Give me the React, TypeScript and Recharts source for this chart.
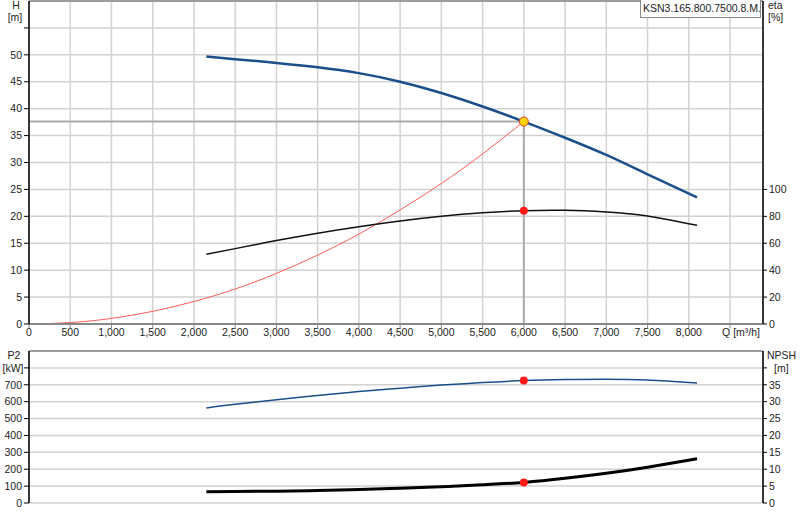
import React from 'react';
import {
  ComposedChart, Line, Scatter, XAxis, YAxis, CartesianGrid, ReferenceLine,
} from 'recharts';

// flow rate Q [m³/h] -> head H [m]
const headQ = [2150, 2500, 3000, 3500, 4000, 4500, 5000, 5500, 6000, 6500, 7000, 7500, 8100];
const headH = [49.7, 49.2, 48.5, 47.7, 46.6, 45.0, 42.9, 40.4, 37.6, 34.6, 31.4, 27.8, 23.5];

// efficiency eta [%]
const etaQ = [2150, 2500, 3000, 3500, 4000, 4500, 5000, 5500, 6000, 6500, 7000, 7500, 8100];
const etaV = [51.9, 56, 62, 67.5, 72.3, 76.5, 80.0, 82.6, 84.2, 84.5, 83.3, 80.3, 73.3];

// system curve (red)
const sysQ = [0, 500, 1000, 1500, 2000, 2500, 3000, 3500, 4000, 4500, 5000, 5500, 6000];
const sysH = [0, 0.26, 1.04, 2.35, 4.18, 6.5, 9.4, 12.8, 16.7, 21.2, 26.1, 31.6, 37.6];

// shaft power P2 [kW]
const p2Q = [2150, 2500, 3000, 3500, 4000, 4500, 5000, 5500, 6000, 6500, 7000, 7500, 8100];
const p2V = [563, 585, 611, 637, 660, 680, 698, 713, 725, 731, 733, 728, 710];

// NPSH [m]
const npshQ = [2150, 2500, 3000, 3500, 4000, 4500, 5000, 5500, 6000, 6500, 7000, 7500, 8100];
const npshV = [3.35, 3.4, 3.5, 3.7, 4.0, 4.35, 4.8, 5.4, 6.1, 7.3, 8.8, 10.6, 13.1];

// duty point
const dutyQ = 6000;
const dutyH = 37.6;
const dutyEta = 84.2;
const dutyP2 = 725;
const dutyNpsh = 6.1;

const qTicks = [0, 500, 1000, 1500, 2000, 2500, 3000, 3500, 4000, 4500, 5000, 5500, 6000, 6500, 7000, 7500, 8000, 8500];
const hTicks = [0, 5, 10, 15, 20, 25, 30, 35, 40, 45, 50, 55];
const etaTicks = [0, 20, 40, 60, 80, 100];
const p2Ticks = [0, 100, 200, 300, 400, 500, 600, 700, 800];
const npshTicks = [0, 5, 10, 15, 20, 25, 30, 35, 40];

const zip = (xs: number[], ys: number[]) => xs.map((q, i) => ({ q, v: ys[i] }));

const FONT = '"Liberation Sans", Arial, sans-serif';
const GRID = '#d2d2d2';
const BLUE = '#1a4f8a';

const XTick = (props: any) => {
  const { x, y, payload } = props;
  const v = payload.value;
  if (v === 8500) {
    return <text x={x + 11} y={y} dy="0.71em" textAnchor="middle" fontSize={10.5} fontFamily={FONT} fill="#222">Q [m³/h]</text>;
  }
  return <text x={x} y={y} dy="0.71em" textAnchor="middle" fontSize={10.5} fontFamily={FONT} fill="#222">{v.toLocaleString('en-US')}</text>;
};

const tickStyle = { fontSize: 10.5, fontFamily: FONT, fill: '#222' };

const label = (text: string, x: number, y: number, anchor: 'middle' | 'start' = 'middle') => (
  <div style={{ position: 'absolute', left: x, top: y, fontSize: 10.5, fontFamily: FONT, color: '#222', transform: anchor === 'middle' ? 'translateX(-50%)' : undefined, whiteSpace: 'nowrap' }}>{text}</div>
);

export default function App() {
  return (
    <div style={{ position: 'absolute', left: 0, top: 0, width: 800, height: 520, background: '#fff' }}>
      {/* upper chart: H, eta */}
      <div style={{ position: 'absolute', left: 0, top: 0 }}>
        <ComposedChart width={800} height={344} margin={{ top: 1, right: 0, bottom: 0, left: 0 }}>
          <CartesianGrid yAxisId="h" stroke={GRID} strokeWidth={1.5} />
          <XAxis dataKey="q" type="number" domain={[0, 8900]} ticks={qTicks} tick={<XTick />}
            height={20} tickSize={4} tickMargin={1} axisLine={{ stroke: '#888', strokeWidth: 2 }} tickLine={{ stroke: '#888' }}
            allowDataOverflow interval={0} />
          <YAxis yAxisId="h" type="number" domain={[0, 60]} ticks={hTicks} width={29}
            tickFormatter={(v: number) => (v === 55 ? '' : String(v))}
            tick={tickStyle} tickSize={5} tickMargin={2}
            axisLine={{ stroke: '#000', strokeWidth: 1.5 }} tickLine={{ stroke: '#000' }} interval={0} />
          <YAxis yAxisId="eta" orientation="right" type="number" domain={[0, 240]} ticks={etaTicks} width={37}
            tick={{ ...tickStyle, textAnchor: 'start' }} tickSize={4} tickMargin={2}
            axisLine={{ stroke: '#000', strokeWidth: 1.5 }} tickLine={{ stroke: '#000' }} interval={0} />
          <ReferenceLine yAxisId="h" y={60} stroke="#888" strokeWidth={1.5} />
          <ReferenceLine yAxisId="h" segment={[{ x: 0, y: dutyH }, { x: dutyQ, y: dutyH }]} stroke="#aaa" strokeWidth={2} />
          <ReferenceLine yAxisId="h" segment={[{ x: dutyQ, y: 0 }, { x: dutyQ, y: dutyH }]} stroke="#aaa" strokeWidth={2} />
          <Line yAxisId="h" data={zip(sysQ, sysH)} dataKey="v" type="natural" stroke="#ff5a5a" strokeWidth={1} dot={false} isAnimationActive={false} />
          <Line yAxisId="eta" data={zip(etaQ, etaV)} dataKey="v" type="natural" stroke="#111" strokeWidth={1.5} dot={false} isAnimationActive={false} />
          <Line yAxisId="h" data={zip(headQ, headH)} dataKey="v" type="natural" stroke={BLUE} strokeWidth={2.5} dot={false} isAnimationActive={false} />
          <Scatter yAxisId="eta" data={[{ q: dutyQ, v: dutyEta }]} dataKey="v" fill="#ff1a1a" isAnimationActive={false}
            shape={(p: any) => <circle cx={p.cx} cy={p.cy} r={4} fill="#ff1a1a" />} />
          <Scatter yAxisId="h" data={[{ q: dutyQ, v: dutyH }]} dataKey="v" fill="#ffd400" isAnimationActive={false}
            shape={(p: any) => <circle cx={p.cx} cy={p.cy} r={4.5} fill="#ffd400" stroke="#e04020" strokeWidth={1} />} />
        </ComposedChart>
      </div>

      {/* lower chart: P2, NPSH */}
      <div style={{ position: 'absolute', left: 0, top: 345 }}>
        <ComposedChart width={800} height={165} margin={{ top: 6, right: 0, bottom: 7, left: 0 }}>
          <CartesianGrid yAxisId="p2" stroke={GRID} strokeWidth={1.5} />
          <XAxis dataKey="q" type="number" domain={[0, 8900]} ticks={qTicks} height={0} tick={false}
            axisLine={{ stroke: '#888', strokeWidth: 2 }} tickLine={false} allowDataOverflow interval={0} />
          <YAxis yAxisId="p2" type="number" domain={[0, 900]} ticks={p2Ticks} width={29}
            tickFormatter={(v: number) => (v === 800 ? '' : String(v))}
            tick={tickStyle} tickSize={5} tickMargin={2}
            axisLine={{ stroke: '#000', strokeWidth: 1.5 }} tickLine={{ stroke: '#000' }} interval={0} />
          <YAxis yAxisId="npsh" orientation="right" type="number" domain={[0, 45]} ticks={npshTicks} width={37}
            tickFormatter={(v: number) => (v === 40 ? '' : String(v))}
            tick={{ ...tickStyle, textAnchor: 'start' }} tickSize={4} tickMargin={2}
            axisLine={{ stroke: '#000', strokeWidth: 1.5 }} tickLine={{ stroke: '#000' }} interval={0} />
          <ReferenceLine yAxisId="p2" y={900} stroke="#888" strokeWidth={1.5} />
          <Line yAxisId="p2" data={zip(p2Q, p2V)} dataKey="v" type="natural" stroke={BLUE} strokeWidth={1.5} dot={false} isAnimationActive={false} />
          <Line yAxisId="npsh" data={zip(npshQ, npshV)} dataKey="v" type="natural" stroke="#000" strokeWidth={3} dot={false} isAnimationActive={false} />
          <Scatter yAxisId="p2" data={[{ q: dutyQ, v: dutyP2 }]} dataKey="v" fill="#ff1a1a" isAnimationActive={false}
            shape={(p: any) => <circle cx={p.cx} cy={p.cy} r={4} fill="#ff1a1a" />} />
          <Scatter yAxisId="npsh" data={[{ q: dutyQ, v: dutyNpsh }]} dataKey="v" fill="#ff1a1a" isAnimationActive={false}
            shape={(p: any) => <circle cx={p.cx} cy={p.cy} r={4} fill="#ff1a1a" />} />
        </ComposedChart>
      </div>

      {/* axis titles */}
      {label('H', 16, -1)}
      {label('[m]', 15, 11)}
      {label('eta', 768, -1, 'start')}
      {label('[%]', 768, 11, 'start')}
      {label('P2', 14, 349)}
      {label('[kW]', 13, 362)}
      {label('NPSH', 767, 349, 'start')}
      {label('[m]', 774, 362, 'start')}

      {/* curve name box */}
      <div style={{
        position: 'absolute', left: 640, top: 0, width: 121, height: 18, background: '#fff',
        border: '1px solid #888', borderTop: 'none', overflow: 'hidden', whiteSpace: 'nowrap',
        fontSize: 10.5, fontFamily: FONT, color: '#222', lineHeight: '17px', paddingLeft: 2, boxSizing: 'border-box',
      }}>KSN3.165.800.7500.8.M.</div>
    </div>
  );
}
